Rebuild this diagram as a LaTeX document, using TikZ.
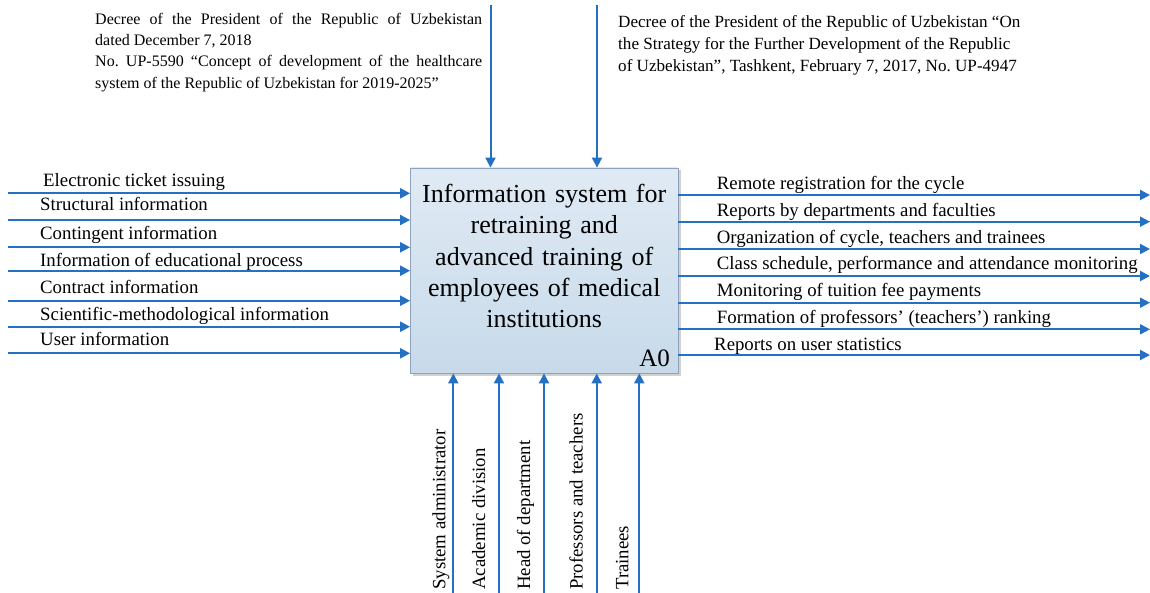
\documentclass[tikz,border=0pt]{standalone}
\usepackage{fontspec}
\setmainfont{Liberation Serif}
\usetikzlibrary{arrows.meta}
\definecolor{flow}{RGB}{36,112,194}
\definecolor{boxtop}{RGB}{224,234,244}
\definecolor{boxbot}{RGB}{199,218,234}
\definecolor{boxline}{RGB}{140,162,192}
\begin{document}
\begin{tikzpicture}[x=1pt,y=-1pt,
  flowline/.style={draw=flow,line width=2pt,-{Triangle[length=10pt,width=10pt]}},
  lbl/.style={font=\fontsize{18.8}{22}\selectfont,inner sep=0pt,anchor=base west},
  vlbl/.style={font=\fontsize{18.8}{22}\selectfont,inner sep=0pt,anchor=base west,rotate=90},
  note/.style={inner sep=0pt,anchor=north west,align=justify}]
\useasboundingbox (0,0) rectangle (1150,593);

% activity box with soft shadow
\fill[black!18] (412.5,170.5) rectangle (680.5,375.5);
\node[draw=boxline,line width=0.8pt,top color=boxtop,bottom color=boxbot,
      minimum width=267.5pt,minimum height=205pt,inner sep=0pt] (A) at (544.25,270.5) {};
\node[font=\fontsize{26}{31.3}\selectfont,align=center,text width=266pt,inner sep=0pt] (title) at (544.25,256)
  {Information system for\\retraining and\\advanced training of\\employees of medical\\institutions};
\node[font=\fontsize{25}{28}\selectfont,inner sep=0pt,anchor=base east] (a0) at (670,366) {A0};

% control texts
\node[note,text width=387pt,font=\fontsize{16}{21.3}\selectfont] (c1) at (95,12.8)
  {Decree of the President of the Republic of Uzbekistan\linebreak dated December 7, 2018\\
   No.\ UP-5590 “Concept of development of the healthcare\linebreak system of the Republic of Uzbekistan for 2019-2025”};
\node[note,align=left,font=\fontsize{17.1}{22}\selectfont] (c2) at (618,15)
  {Decree of the President of the Republic of Uzbekistan “On\\
   the Strategy for the Further Development of the Republic\\
   of Uzbekistan”, Tashkent, February 7, 2017, No.\ UP-4947};

% control arrows
\coordinate (t1) at (490.5,5);
\coordinate (t2) at (597,5);
\draw[flowline] (t1) -- (t1 |- A.north);
\draw[flowline] (t2) -- (t2 |- A.north);

% inputs
\foreach \y/\b/\x/\t [count=\i] in {
  193.3/187/43/Electronic ticket issuing,
  220/210.7/40/Structural information,
  247.3/240/40/Contingent information,
  270.7/266.7/40/Information of educational process,
  300.7/294/40/Contract information,
  326.7/320.7/40/Scientific-methodological information,
  353.3/345/40/User information}{
  \coordinate (in\i) at (8,\y);
  \draw[flowline] (in\i) -- (in\i -| A.west);
  \node[lbl] (inl\i) at (\x,\b) {\t};
}

% outputs
\foreach \y/\b/\x/\t [count=\i] in {
  195/190/716.7/Remote registration for the cycle,
  221.7/216.7/716.7/Reports by departments and faculties,
  249/243.3/716.7/{Organization of cycle, teachers and trainees},
  276/269.3/716.7/{Class schedule, performance and attendance monitoring},
  302.7/296.7/716.7/Monitoring of tuition fee payments,
  329.3/323.3/716.7/Formation of professors’ (teachers’) ranking,
  355/350/714/Reports on user statistics}{
  \coordinate (out\i) at (1150,\y);
  \draw[flowline] (out\i -| A.east) -- (out\i);
  \node[lbl] (outl\i) at (\x,\b) {\t};
}

% mechanisms
\foreach \x/\d/\t [count=\i] in {
  453.3/8/System administrator,
  499/14/Academic division,
  544/14/Head of department,
  596.7/14/Professors and teachers,
  639.3/11/Trainees}{
  \coordinate (m\i) at (\x,593);
  \draw[flowline] (m\i) -- (m\i |- A.south);
  \node[vlbl] (ml\i) at (\x-\d,590) {\t};
}
\end{tikzpicture}
\end{document}
